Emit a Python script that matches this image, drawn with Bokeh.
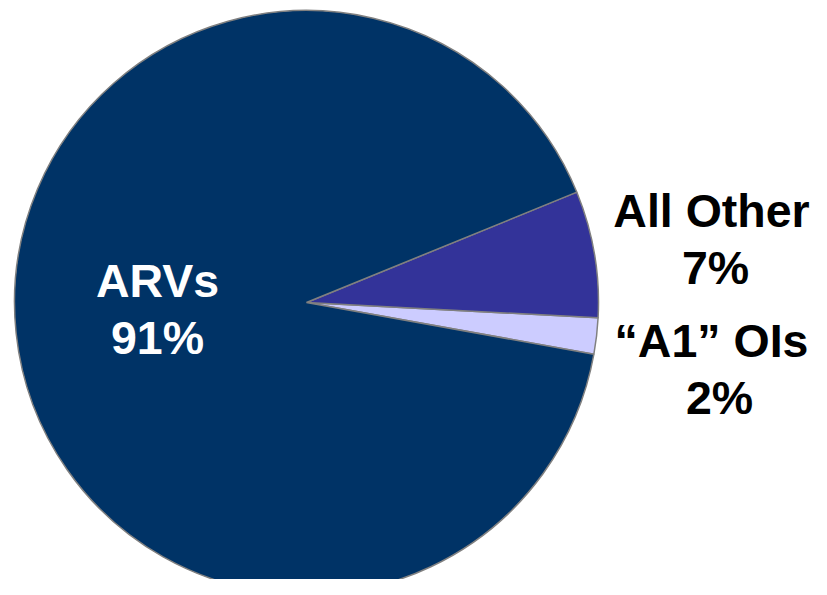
import math
from bokeh.plotting import figure
from bokeh.models import ColumnDataSource, Range1d
from bokeh.core.properties import value
from bokeh.embed import file_html
from bokeh.resources import INLINE

# ---- data ----
categories = ["\u201cA1\u201d OIs", "All Other", "ARVs"]
shares = [2, 7, 91]
colors = ["#CCCCFF", "#333399", "#003366"]

# ---- layout ----
W, H = 811, 579
cx, cy, R = 306, 277, 292
start_offset = math.radians(-10.2)  # rotation of the first slice

total = sum(shares)
starts, ends = [], []
a = start_offset
for s in shares:
    starts.append(a)
    a += 2 * math.pi * s / total
    ends.append(a)

p = figure(width=W, height=H, output_backend="svg", toolbar_location=None,
           x_range=Range1d(0, W), y_range=Range1d(0, H), min_border=0)
p.axis.visible = False
p.grid.visible = False
p.outline_line_color = None
p.background_fill_color = "white"

src = ColumnDataSource(dict(x=[cx] * 3, y=[cy] * 3, start=starts, end=ends,
                            color=colors, cat=categories))
p.wedge(x="x", y="y", radius=R, start_angle="start", end_angle="end",
        fill_color="color", line_color="#808080", line_width=1.5, source=src)

# label placement (name line, percent line) per category
label_pos = {
    "ARVs": ((157, 299), (157, 242), "white"),
    "All Other": ((711, 369), (715, 312), "black"),
    "\u201cA1\u201d OIs": ((711, 239), (719, 182), "black"),
}
lx, ly, lt, lc = [], [], [], []
for cat, s in zip(categories, shares):
    (x1, y1), (x2, y2), c = label_pos[cat]
    lx += [x1, x2]
    ly += [y1, y2]
    lt += [cat, f"{s}%"]
    lc += [c, c]

p.text(x=lx, y=ly, text=lt, text_color=lc, text_align="center",
       text_baseline="alphabetic", text_font=value("Liberation Sans"),
       text_font_style="bold", text_font_size="46.5px")

open("out.html", "w").write(file_html(p, INLINE))
